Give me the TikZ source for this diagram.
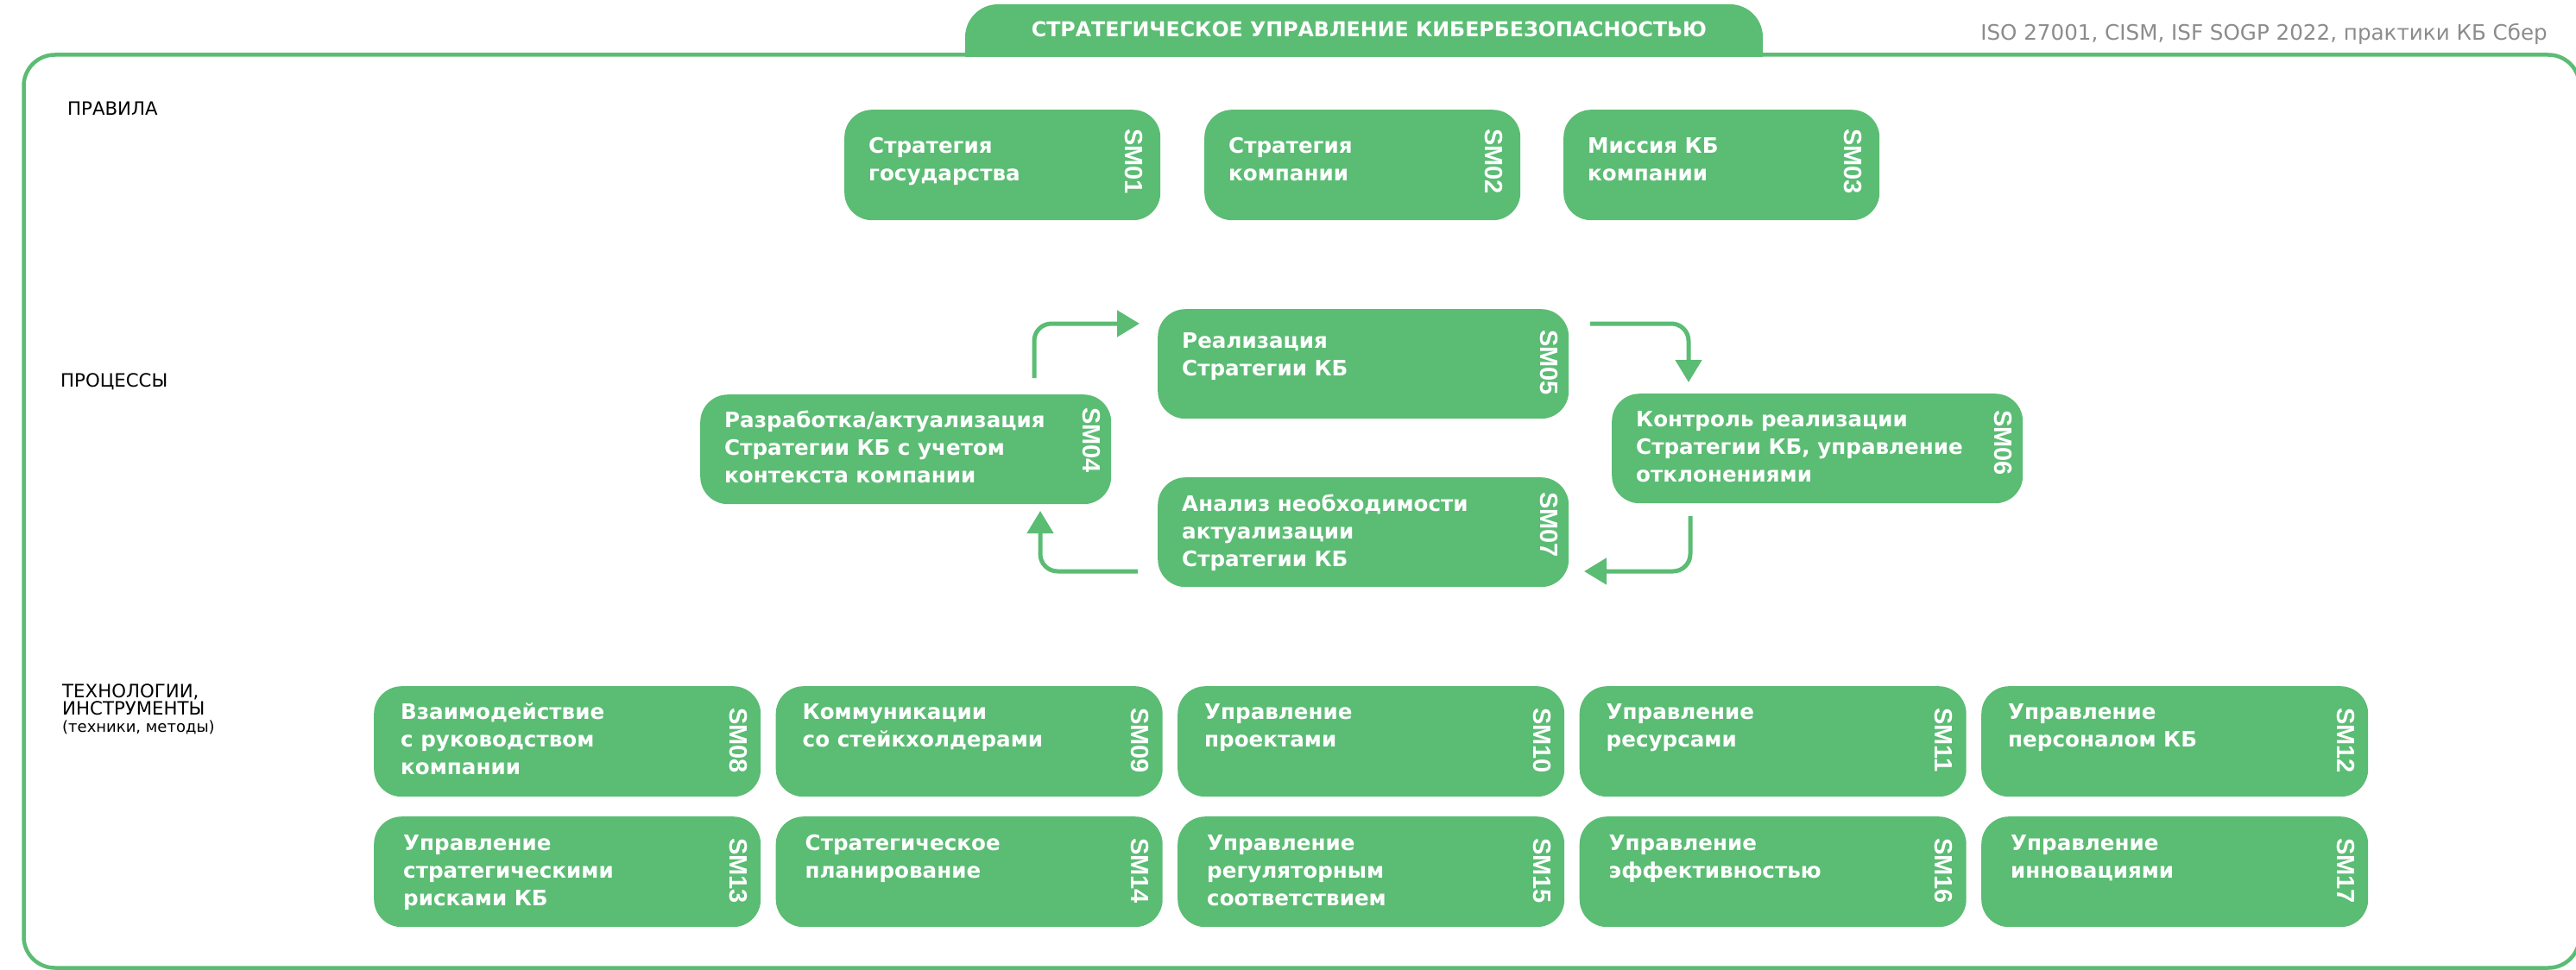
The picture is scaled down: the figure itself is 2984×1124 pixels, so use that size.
\documentclass[tikz,border=0pt]{standalone}
\usepackage{fontspec}
\setmainfont{DejaVu Sans}
\newfontfamily\idfont{Liberation Sans}
\usetikzlibrary{arrows.meta,calc}
\definecolor{grn}{RGB}{91,188,116}
\definecolor{gry}{RGB}{140,140,140}
\def\tdx{31}\def\tdy{38}\def\ldx{26}\def\ldy{25}
\newcommand\bx[7]{%
  \node[box, minimum width=#4pt, minimum height=#5pt, anchor=north west] (#1) at (#2,#3) {};
  \node[btxt, anchor=base west] (#1t) at ($(#1.north west)+(\tdx,\tdy)$) {\parbox[t]{400pt}{\raggedright #6}};
  \node[bid, anchor=west, rotate=-90] (#1id) at ($(#1.north east)+(-\ldx,\ldy)$) {#7};
}
\begin{document}
\begin{tikzpicture}[x=1pt,y=-1pt,
  box/.style={fill=grn, draw=none, rounded corners=32pt, inner sep=0pt},
  btxt/.style={text=white, inner sep=0pt, font=\bfseries\fontsize{24.6}{32}\selectfont},
  bid/.style={text=white, inner sep=0pt, font=\idfont\bfseries\fontsize{29}{29}\selectfont},
  cat/.style={text=black, inner sep=0pt, font=\fontsize{21.3}{20}\selectfont},
  arr/.style={draw=grn, line width=5pt, rounded corners=20pt, -{Triangle[length=26pt,width=30pt]}}]
\useasboundingbox (0,0) rectangle (2984,1124);
% outer frame
\draw[grn, line width=4.5pt, rounded corners=36pt] (27.5,63.5) rectangle (2988,1121.5);
% header tab
\fill[grn] (1118,66) [rounded corners=38pt] -- (1118,5) -- (2042,5) [sharp corners] -- (2042,66) -- cycle;
\node[text=white, inner sep=0pt, anchor=base, font=\bfseries\fontsize{23.7}{24}\selectfont] (title) at (1586,43) {СТРАТЕГИЧЕСКОЕ УПРАВЛЕНИЕ КИБЕРБЕЗОПАСНОСТЬЮ};
\node[text=gry, inner sep=0pt, anchor=base east, font=\fontsize{24.6}{24}\selectfont] (src) at (2951,47) {ISO 27001, CISM, ISF SOGP 2022, практики КБ Сбер};
% category labels
\node[cat, anchor=base west] (lrules) at (78,133) {ПРАВИЛА};
\node[cat, anchor=base west] (lproc) at (70,448) {ПРОЦЕССЫ};
\node[cat, anchor=base west] (ltech) at (72,808) {\parbox[t]{300pt}{ТЕХНОЛОГИИ,\\ИНСТРУМЕНТЫ\\{\fontsize{18}{20}\selectfont(техники, методы)}}};
% rules row
\def\tdx{28}\def\tdy{50}\def\ldx{31}\def\ldy{22}
\bx{sm01}{978}{127}{366}{128}{Стратегия\\государства}{SM01}
\bx{sm02}{1395}{127}{366}{128}{Стратегия\\компании}{SM02}
\bx{sm03}{1811}{127}{366}{128}{Миссия КБ\\компании}{SM03}
% processes
\def\tdx{28}\def\tdy{45}\def\ldx{23}\def\ldy{24}
\bx{sm05}{1341}{358}{476}{127}{Реализация\\Стратегии КБ}{SM05}
\def\tdy{38}\def\ldy{15}
\bx{sm04}{811}{457}{476}{127}{Разработка/актуализация\\Стратегии КБ с учетом\\контекста компании}{SM04}
\def\ldy{19}
\bx{sm06}{1867}{456}{476}{127}{Контроль реализации\\Стратегии КБ, управление\\отклонениями}{SM06}
\def\tdy{39}\def\ldy{17}
\bx{sm07}{1341}{553}{476}{127}{Анализ необходимости\\актуализации\\Стратегии КБ}{SM07}
% cycle arrows
\coordinate (a1s) at (1198,438); \coordinate (a1e) at (1320,375);
\coordinate (a2s) at (1842,375); \coordinate (a2e) at (1956,443);
\coordinate (a3s) at (1958,598); \coordinate (a3e) at (1835,662);
\coordinate (a4s) at (1318,662); \coordinate (a4e) at (1205,592);
\draw[arr] (a1s) |- (a1e);
\draw[arr] (a2s) -| (a2e);
\draw[arr] (a3s) |- (a3e);
\draw[arr] (a4s) -| (a4e);
% technologies rows
\def\tdx{31}\def\tdy{38}\def\ldx{26}\def\ldy{25}
\bx{sm08}{433}{795}{448}{128}{Взаимодействие\\с руководством\\компании}{SM08}
\bx{sm09}{898.5}{795}{448}{128}{Коммуникации\\со стейкхолдерами}{SM09}
\bx{sm10}{1364}{795}{448}{128}{Управление\\проектами}{SM10}
\bx{sm11}{1829.5}{795}{448}{128}{Управление\\ресурсами}{SM11}
\bx{sm12}{2295}{795}{448}{128}{Управление\\персоналом КБ}{SM12}
\def\tdx{34}\def\tdy{39}
\bx{sm13}{433}{946}{448}{128}{Управление\\стратегическими\\рисками КБ}{SM13}
\bx{sm14}{898.5}{946}{448}{128}{Стратегическое\\планирование}{SM14}
\bx{sm15}{1364}{946}{448}{128}{Управление\\регуляторным\\соответствием}{SM15}
\bx{sm16}{1829.5}{946}{448}{128}{Управление\\эффективностью}{SM16}
\bx{sm17}{2295}{946}{448}{128}{Управление\\инновациями}{SM17}
\end{tikzpicture}
\end{document}
